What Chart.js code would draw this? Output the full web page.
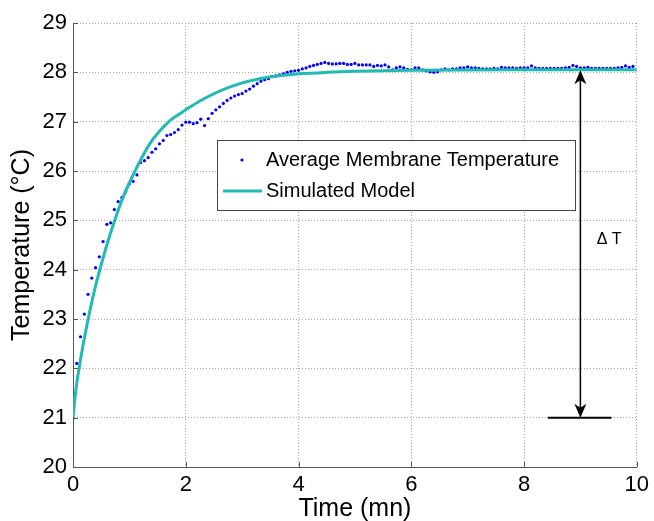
<!DOCTYPE html>
<html>
<head>
<meta charset="utf-8">
<script src="https://cdn.jsdelivr.net/npm/chart.js@4.4.1/dist/chart.umd.min.js"></script>
<style>
  html, body { margin: 0; padding: 0; background: #fff; }
  #wrap { width: 654px; height: 521px; }
</style>
</head>
<body>
<div id="wrap"><canvas id="chart" width="654" height="521"></canvas></div>
<script>
// Measured membrane temperature, one sample every 4 s (1/15 min)
const SAMPLE_STEP = 1 / 15;
const measuredTemp = [
  21.00, 22.10, 22.64, 23.10, 23.50, 23.83, 24.04, 24.26, 24.57, 24.92,
  24.95, 25.22, 25.38, 25.46, 25.59, 25.74, 25.79, 25.92, 26.17, 26.21,
  26.27, 26.38, 26.45, 26.55, 26.62, 26.72, 26.74, 26.78, 26.84, 26.93,
  26.99, 26.99, 26.96, 26.98, 27.05, 26.92, 27.06, 27.17, 27.24, 27.30,
  27.37, 27.43, 27.48, 27.52, 27.55, 27.57, 27.62, 27.66, 27.72, 27.77,
  27.82, 27.85, 27.87, 27.92, 27.93, 27.95, 27.97, 28.00, 28.02, 28.03,
  28.04, 28.07, 28.09, 28.12, 28.14, 28.16, 28.18, 28.20, 28.18, 28.17,
  28.17, 28.18, 28.18, 28.16, 28.16, 28.18, 28.15, 28.15, 28.15, 28.15,
  28.12, 28.14, 28.13, 28.15, 28.11, 28.05, 28.09, 28.11, 28.09, 28.06,
  28.05, 28.09, 28.09, 28.05, 28.03, 28.01, 28.00, 28.01, 28.05, 28.07,
  28.05, 28.07, 28.07, 28.09, 28.09, 28.11, 28.09, 28.09, 28.08, 28.07,
  28.07, 28.07, 28.08, 28.07, 28.10, 28.09, 28.09, 28.09, 28.08, 28.09,
  28.09, 28.09, 28.13, 28.09, 28.08, 28.08, 28.08, 28.08, 28.08, 28.08,
  28.08, 28.09, 28.10, 28.14, 28.12, 28.09, 28.09, 28.10, 28.08, 28.08,
  28.08, 28.08, 28.08, 28.08, 28.08, 28.09, 28.10, 28.13, 28.10, 28.12
];

// Simulated model
const modelTime = [0, 0.05, 0.1, 0.2, 0.3, 0.4, 0.5, 0.6, 0.74, 0.9, 1.1, 1.36, 1.68, 1.84, 2.0, 2.25, 2.6, 2.96, 3.31, 3.66, 4.02, 4.5, 5, 6, 8, 10];
const modelTemp = [21.0, 21.55, 21.95, 22.6, 23.17, 23.67, 24.1, 24.5, 25.0, 25.5, 26.0, 26.55, 26.98, 27.12, 27.24, 27.42, 27.62, 27.77, 27.87, 27.93, 27.97, 28.0, 28.02, 28.04, 28.05, 28.05];

// Axis ticks
const xTicks = [0, 2, 4, 6, 8, 10];
const yTicks = [20, 21, 22, 23, 24, 25, 26, 27, 28, 29];

// Delta T annotation (data coordinates)
const deltaX = 9;
const deltaFrom = 21;
const deltaTo = 28.04;
const deltaBase = [8.42, 9.55];
const deltaLabel = { x: 9.29, y: 24.6, text: '\u0394 T' };

const COLORS = {
  measured: '#0000ff',
  model: '#22bab3',
  axis: '#555555',
  grid: '#a8a8a8',
  text: '#000000'
};
const FONT = 'Liberation Sans, Arial, sans-serif';

const measuredPoints = measuredTemp.map((v, i) => ({ x: i * SAMPLE_STEP, y: v }));
const modelPoints = modelTime.map((t, i) => ({ x: t, y: modelTemp[i] }));

// Arrow head with a small notch, MATLAB style
function arrowHead(ctx, x, y, dir) {
  const len = 14, half = 6, notch = 10;
  ctx.beginPath();
  ctx.moveTo(x, y);
  ctx.lineTo(x - half, y + dir * len);
  ctx.lineTo(x, y + dir * notch);
  ctx.lineTo(x + half, y + dir * len);
  ctx.closePath();
  ctx.fill();
}

const overlayPlugin = {
  id: 'overlay',
  afterDatasetsDraw(chart) {
    const { ctx, chartArea: area, scales: { x, y } } = chart;
    ctx.save();

    // inward tick marks
    ctx.strokeStyle = COLORS.axis;
    ctx.lineWidth = 1;
    ctx.beginPath();
    yTicks.forEach(v => {
      const py = Math.round(y.getPixelForValue(v)) + 0.5;
      ctx.moveTo(area.left, py);
      ctx.lineTo(area.left + 5, py);
    });
    xTicks.forEach(v => {
      const px = Math.round(x.getPixelForValue(v)) + 0.5;
      ctx.moveTo(px, area.bottom);
      ctx.lineTo(px, area.bottom - 5);
    });
    ctx.stroke();

    // delta T arrow
    const ax = x.getPixelForValue(deltaX);
    const yTop = y.getPixelForValue(deltaTo);
    const yBot = y.getPixelForValue(deltaFrom);
    ctx.strokeStyle = '#000';
    ctx.fillStyle = '#000';
    ctx.lineWidth = 1.5;
    ctx.beginPath();
    ctx.moveTo(ax, yTop + 8);
    ctx.lineTo(ax, yBot - 8);
    ctx.stroke();
    arrowHead(ctx, ax, yTop, 1);
    arrowHead(ctx, ax, yBot, -1);

    ctx.lineWidth = 2;
    ctx.beginPath();
    ctx.moveTo(x.getPixelForValue(deltaBase[0]), yBot);
    ctx.lineTo(x.getPixelForValue(deltaBase[1]), yBot);
    ctx.stroke();

    ctx.font = '16px ' + FONT;
    ctx.textAlign = 'left';
    ctx.textBaseline = 'middle';
    ctx.fillText(deltaLabel.text, x.getPixelForValue(deltaLabel.x), y.getPixelForValue(deltaLabel.y));

    // legend box
    const box = { left: 217, top: 140, right: 575, bottom: 210 };
    ctx.fillStyle = '#fff';
    ctx.fillRect(box.left, box.top, box.right - box.left, box.bottom - box.top);
    ctx.strokeStyle = '#444';
    ctx.lineWidth = 1;
    ctx.strokeRect(box.left + 0.5, box.top + 0.5, box.right - box.left, box.bottom - box.top);

    ctx.fillStyle = COLORS.measured;
    ctx.beginPath();
    ctx.arc(242, 160, 1.6, 0, Math.PI * 2);
    ctx.fill();

    ctx.strokeStyle = COLORS.model;
    ctx.lineWidth = 3;
    ctx.beginPath();
    ctx.moveTo(223, 191);
    ctx.lineTo(262, 191);
    ctx.stroke();

    ctx.fillStyle = COLORS.text;
    ctx.font = '20px ' + FONT;
    ctx.textBaseline = 'middle';
    ctx.fillText('Average Membrane Temperature', 266, 160);
    ctx.fillText('Simulated Model', 266, 191);

    ctx.restore();
  }
};

new Chart(document.getElementById('chart'), {
  type: 'scatter',
  data: {
    datasets: [
      {
        type: 'line',
        label: 'Simulated Model',
        data: modelPoints,
        borderColor: COLORS.model,
        borderWidth: 3,
        pointRadius: 0,
        cubicInterpolationMode: 'monotone',
        fill: false,
        order: 0
      },
      {
        label: 'Average Membrane Temperature',
        data: measuredPoints,
        backgroundColor: COLORS.measured,
        borderWidth: 0,
        pointRadius: 1.6,
        showLine: false,
        order: 1
      }
    ]
  },
  options: {
    responsive: false,
    animation: false,
    devicePixelRatio: 1,
    layout: { padding: { top: 23, right: 16, left: 0, bottom: 0 } },
    plugins: {
      legend: { display: false },
      tooltip: { enabled: false }
    },
    scales: {
      x: {
        type: 'linear',
        min: 0,
        max: 10,
        afterBuildTicks: axis => { axis.ticks = xTicks.map(v => ({ value: v })); },
        afterFit: axis => { axis.height = 54; },
        grid: { color: COLORS.grid, drawTicks: false, lineWidth: 1 },
        border: { color: COLORS.axis, width: 1, dash: [1, 2] },
        ticks: { color: COLORS.text, font: { family: FONT, size: 22 }, padding: 5, maxRotation: 0 },
        title: { display: true, text: 'Time (mn)', color: COLORS.text, font: { family: FONT, size: 25, lineHeight: 1 }, padding: { top: 0, bottom: -1 } }
      },
      y: {
        min: 20,
        max: 29,
        afterBuildTicks: axis => { axis.ticks = yTicks.map(v => ({ value: v })); },
        afterFit: axis => { axis.width = 73; },
        grid: { color: COLORS.grid, drawTicks: false, lineWidth: 1 },
        border: { color: COLORS.axis, width: 1, dash: [1, 2] },
        ticks: { color: COLORS.text, font: { family: FONT, size: 22 }, padding: 6 },
        title: { display: true, text: 'Temperature (\u00B0C)', color: COLORS.text, font: { family: FONT, size: 25, lineHeight: 1 }, padding: { top: 10, bottom: 0 } }
      }
    }
  },
  plugins: [overlayPlugin]
});
</script>
</body>
</html>
